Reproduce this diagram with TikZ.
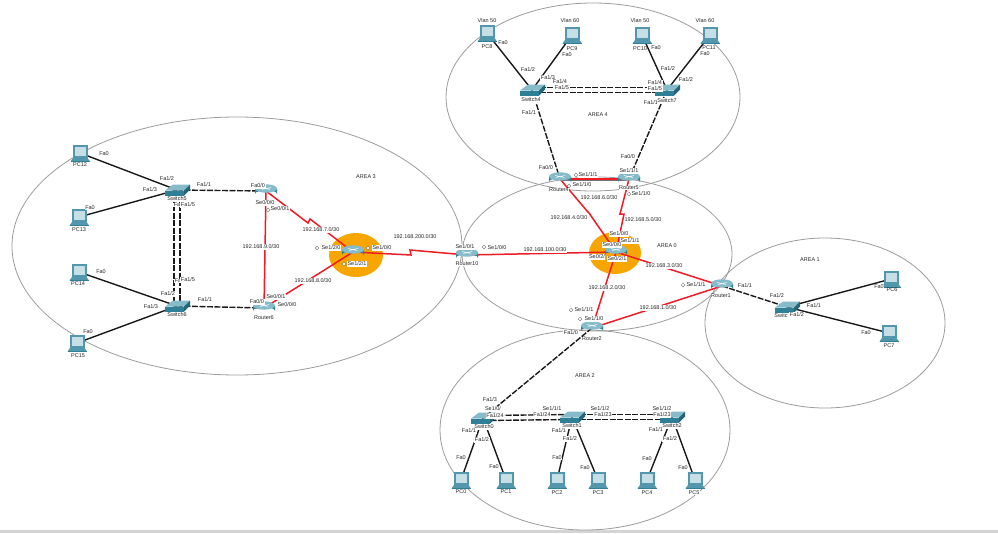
\documentclass[tikz,border=0pt]{standalone}
\usepackage{fontspec}
\setmainfont{Liberation Sans}
\usetikzlibrary{calc}
\definecolor{tealdark}{HTML}{2F7F96}
\definecolor{tealmid}{HTML}{5297AB}
\definecolor{teallight}{HTML}{86BBCA}
\definecolor{screenblue}{HTML}{C6DFE7}
\definecolor{linkred}{HTML}{EE1C25}
\definecolor{hubcolor}{HTML}{F7A600}
\definecolor{areagray}{HTML}{9C9C9C}
\newcount\labn
\newcommand{\lab}[3]{\global\advance\labn by 1 \node[portlabel] (lb\the\labn) at (#1,#2) {#3};}
\newcommand{\clk}[2]{\draw[clockmark] (#1,#2) circle (1.8);}
\tikzset{
  x=1pt,y=-1pt,
  portlabel/.style={font=\fontsize{5.5}{5.5}\selectfont,fill=white,inner sep=0.5pt,text=black!85},
  arealine/.style={draw=areagray,line width=0.8pt},
  wire/.style={draw=black!90,line width=1.4pt},
  trunk/.style={draw=black!90,line width=1.4pt,dash pattern=on 6pt off 1.5pt},
  serial/.style={draw=linkred,line width=1.5pt},
  clockmark/.style={draw=black!60,line width=0.3pt,fill=white},
  pics/pcicon/.style={code={
    \fill[tealmid] (-7.5,-8) rectangle (7.5,5);
    \fill[screenblue] (-5.5,-6.5) rectangle (5.5,3);
    \fill[tealmid] (-9.5,8.5) -- (-7,5) -- (7.5,5) -- (10,8.5) -- cycle;
    \fill[tealdark] (-9.5,7.5) rectangle (10,9);
  }},
  pics/routericon/.style={code={
    \fill[tealdark] (-11,-2) -- (-11,3) arc[start angle=180,end angle=360,x radius=11,y radius=4] -- (11,-2) -- cycle;
    \fill[tealmid] (-11,0) arc[start angle=180,end angle=360,x radius=11,y radius=4] -- (11,-2) -- (-11,-2) -- cycle;
    \fill[teallight] (0,-2.5) ellipse[x radius=11,y radius=4.2];
    \draw[white,line width=0.5pt] (-5,-3.5) -- (4,-1.5) (-4,-1.5) -- (5,-3.5);
  }},
  pics/switchicon/.style={code={
    \fill[teallight] (-12,0.5) -- (-4,-5.5) -- (13,-5.5) -- (7,0.5) -- cycle;
    \fill[tealdark] (-12,0.5) rectangle (7,5.5);
    \fill[tealdark!80!black] (7,0.5) -- (13,-5.5) -- (13,-0.5) -- (7,5.5) -- cycle;
  }}
}
\begin{document}
\begin{tikzpicture}
\useasboundingbox (0,0) rectangle (998,533);
\fill[white] (0,0) rectangle (998,533);
\fill[black!17] (0,530) rectangle (998,533);

% OSPF area outlines
\draw[arealine] (237,246) ellipse[x radius=225,y radius=129];
\draw[arealine] (593,97) ellipse[x radius=147,y radius=94];
\draw[arealine] (597,254) ellipse[x radius=135,y radius=77];
\draw[arealine] (825,323) ellipse[x radius=120,y radius=85];
\draw[arealine] (585,430) ellipse[x radius=145,y radius=100];

% highlighted hub routers
\fill[hubcolor] (356,255) ellipse[x radius=27,y radius=22];
\fill[hubcolor] (615,253) ellipse[x radius=26,y radius=21];

% device anchors
\node[coordinate] (pc12) at (80,153) {};
\node[coordinate] (pc13) at (79,217) {};
\node[coordinate] (pc14) at (79,272) {};
\node[coordinate] (pc15) at (77,343) {};
\node[coordinate] (sw5) at (177,190) {};
\node[coordinate] (sw6) at (177,306) {};
\node[coordinate] (r7) at (266,191) {};
\node[coordinate] (r6) at (264,308) {};
\node[coordinate] (hubw) at (353,252) {};
\node[coordinate] (r10) at (467,255) {};
\node[coordinate] (hubc) at (616,252) {};
\node[coordinate] (r4) at (560,179) {};
\node[coordinate] (r5) at (629,179) {};
\node[coordinate] (r1) at (722,286) {};
\node[coordinate] (r2) at (592,328) {};
\node[coordinate] (sw4) at (532,90) {};
\node[coordinate] (sw7) at (667,90) {};
\node[coordinate] (pc8) at (487,33) {};
\node[coordinate] (pc9) at (572,35) {};
\node[coordinate] (pc10) at (642,35) {};
\node[coordinate] (pc11) at (710,35) {};
\node[coordinate] (swa) at (483,418) {};
\node[coordinate] (swb) at (572,417) {};
\node[coordinate] (swc) at (672,417) {};
\node[coordinate] (pc0) at (461,480) {};
\node[coordinate] (pc1) at (506,480) {};
\node[coordinate] (pc2) at (557,480) {};
\node[coordinate] (pc3) at (598,480) {};
\node[coordinate] (pc4) at (647,480) {};
\node[coordinate] (pc5) at (695,480) {};
\node[coordinate] (sw1) at (787,307) {};
\node[coordinate] (pc6) at (891,279) {};
\node[coordinate] (pc7) at (889,333) {};

% access links
\draw[wire] (pc12) -- (sw5);
\draw[wire] (pc13) -- (sw5);
\draw[wire] (pc14) -- (sw6);
\draw[wire] (pc15) -- (sw6);
\draw[wire] (pc8) -- (sw4);
\draw[wire] (pc9) -- (sw4);
\draw[wire] (pc10) -- (sw7);
\draw[wire] (pc11) -- (sw7);
\draw[wire] (pc0) -- (swa);
\draw[wire] (pc1) -- (swa);
\draw[wire] (pc2) -- (swb);
\draw[wire] (pc3) -- (swb);
\draw[wire] (pc4) -- (swc);
\draw[wire] (pc5) -- (swc);
\draw[wire] (pc6) -- (sw1);
\draw[wire] (pc7) -- (sw1);

% trunks and router uplinks
\draw[trunk] ([xshift=-3pt]sw5.center) -- ([xshift=-3pt]sw6.center);
\draw[trunk] ([xshift=3pt]sw5.center) -- ([xshift=3pt]sw6.center);
\draw[trunk] (sw5) -- (r7);
\draw[trunk] (sw6) -- (r6);
\draw[trunk] ([yshift=2.5pt]sw4.center) -- ([yshift=2.5pt]sw7.center);
\draw[trunk] ([yshift=-2.5pt]sw4.center) -- ([yshift=-2.5pt]sw7.center);
\draw[trunk] (sw4) -- (r4);
\draw[trunk] (sw7) -- (r5);
\draw[trunk] (r2) -- (swa);
\draw[trunk] ([yshift=2.5pt]swa.center) -- ([yshift=2.5pt]swb.center);
\draw[trunk] ([yshift=-2.5pt]swa.center) -- ([yshift=-2.5pt]swb.center);
\draw[trunk] ([yshift=2.5pt]swb.center) -- ([yshift=2.5pt]swc.center);
\draw[trunk] ([yshift=-2.5pt]swb.center) -- ([yshift=-2.5pt]swc.center);
\draw[trunk] (r1) -- (sw1);

% serial links between routers
\draw[serial] (r7) -- (r6);
\draw[serial] (r7) -- (308,223) -- (310,219) -- (hubw);
\draw[serial] (r6) -- (hubw);
\draw[serial] (hubw) -- (411,255) -- (410,250) -- (r10);
\draw[serial] (r10) -- (hubc);
\draw[draw=black!55,line width=0.6pt] ([yshift=-1.5pt]r4.center) -- ([yshift=-1.5pt]r5.center);
\draw[serial] (r4) -- (r5);
\draw[serial] (r4) -- (587,211) -- (589,213) -- (hubc);
\draw[serial] (r5) -- (620,214) -- (624,214) -- (hubc);
\draw[serial] (hubc) -- (r1);
\draw[serial] (hubc) -- (r2);
\draw[serial] (r2) -- (r1);

% device icons
\foreach \d in {pc12,pc13,pc14,pc15,pc8,pc9,pc10,pc11,pc0,pc1,pc2,pc3,pc4,pc5,pc6,pc7}{\pic at (\d) {pcicon};}
\foreach \d in {r7,r6,hubw,r10,r4,r5,r1,r2,hubc}{\pic at (\d) {routericon};}
\foreach \d in {sw5,sw6,sw4,sw7,swa,swb,swc,sw1}{\pic at (\d) {switchicon};}

% area titles
\lab{366}{177}{AREA 3}
\lab{598}{115}{AREA 4}
\lab{667}{246}{AREA 0}
\lab{810}{260}{AREA 1}
\lab{585}{376}{AREA 2}

% subnets
\lab{321}{230}{192.168.7.0/30}
\lab{261}{247}{192.168.9.0/30}
\lab{313}{281}{192.168.8.0/30}
\lab{415}{237}{192.168.200.0/30}
\lab{545}{250}{192.168.100.0/30}
\lab{599}{198}{192.168.6.0/30}
\lab{569}{218}{192.168.4.0/30}
\lab{643}{220}{192.168.5.0/30}
\lab{664}{266}{192.168.3.0/30}
\lab{607}{288}{192.168.2.0/30}
\lab{658}{308}{192.168.1.0/30}

% left area ports and names
\lab{80}{165}{PC12}
\lab{79}{230}{PC13}
\lab{78}{284}{PC14}
\lab{78}{356}{PC15}
\lab{104}{154}{Fa0}
\lab{90}{208}{Fa0}
\lab{101}{272}{Fa0}
\lab{88}{332}{Fa0}
\lab{167}{179}{Fa1/2}
\lab{150}{190}{Fa1/3}
\lab{204}{185}{Fa1/1}
\lab{177}{199}{Switch5}
\lab{177}{205}{Fa}
\lab{188}{205}{Fa1/5}
\lab{178}{281}{Fa}
\lab{188}{280}{Fa1/5}
\lab{168}{294}{Fa1/2}
\lab{151}{307}{Fa1/3}
\lab{205}{300}{Fa1/1}
\lab{177}{315}{Switch6}
\lab{258}{186}{Fa0/0}
\lab{265}{203}{Se0/0/0}
\clk{268}{210}
\lab{280}{209}{Se0/0/1}
\clk{317}{248}
\lab{331}{248}{Se1/2/0}
\clk{368}{248}
\lab{382}{248}{Se1/0/0}
\clk{344}{264}
\lab{357}{264}{Se1/2/1}
\lab{257}{302}{Fa0/0}
\lab{276}{297}{Se0/0/1}
\lab{287}{305}{Se0/0/0}
\lab{264}{318}{Router6}
\lab{465}{247}{Se1/0/1}
\clk{484}{247}
\lab{497}{248}{Se1/0/0}
\lab{467}{264}{Router10}

% top area ports and names
\lab{487}{21}{Vlan 50}
\lab{570}{21}{Vlan 60}
\lab{640}{21}{Vlan 50}
\lab{705}{21}{Vlan 60}
\lab{487}{47}{PC8}
\lab{572}{49}{PC9}
\lab{640}{49}{PC10}
\lab{503}{43}{Fa0}
\lab{567}{55}{Fa0}
\lab{656}{48}{Fa0}
\lab{709}{48}{PC11}
\lab{705}{54}{Fa0}
\lab{528}{70}{Fa1/2}
\lab{668}{69}{Fa1/2}
\lab{686}{80}{Fa1/2}
\lab{548}{78}{Fa1/3}
\lab{560}{82}{Fa1/4}
\lab{562}{88}{Fa1/5}
\lab{655}{83}{Fa1/4}
\lab{655}{89}{Fa1/5}
\lab{651}{103}{Fa1/1}
\lab{529}{113}{Fa1/1}
\lab{531}{100}{Switch4}
\lab{667}{101}{Switch7}
\lab{628}{157}{Fa0/0}
\lab{546}{168}{Fa0/0}

% core ports and names
\clk{576}{175}
\lab{588}{175}{Se1/1/1}
\lab{629}{171}{Se1/1/1}
\clk{569}{186}
\lab{582}{185}{Se1/1/0}
\clk{629}{194}
\lab{641}{194}{Se1/1/0}
\lab{559}{190}{Router4}
\lab{629}{188}{Router5}
\lab{619}{234}{Se1/0/0}
\lab{630}{241}{Se1/1/1}
\lab{612}{245}{Se0/0/0}
\lab{597}{257}{Se0/2/}
\lab{617}{259}{Se0/2/1}
\clk{683}{285}
\lab{696}{285}{Se1/1/1}
\lab{721}{296}{Router1}
\clk{571}{310}
\lab{584}{310}{Se1/1/1}
\clk{580}{319}
\lab{594}{319}{Se1/1/0}
\lab{571}{333}{Fa1/0}
\lab{592}{339}{Router2}

% lower area ports and names
\lab{490}{400}{Fa1/3}
\lab{493}{409}{Se1/0/}
\lab{495}{416}{Fa1/24}
\lab{552}{409}{Se1/1/1}
\lab{542}{415}{Fa1/24}
\lab{600}{409}{Se1/1/2}
\lab{603}{415}{Fa1/23}
\lab{662}{409}{Se1/1/2}
\lab{662}{415}{Fa1/23}
\lab{484}{427}{Switch0}
\lab{572}{426}{Switch1}
\lab{672}{426}{Switch2}
\lab{469}{431}{Fa1/1}
\lab{482}{440}{Fa1/2}
\lab{559}{431}{Fa1/1}
\lab{570}{439}{Fa1/2}
\lab{656}{430}{Fa1/1}
\lab{670}{439}{Fa1/2}
\lab{461}{458}{Fa0}
\lab{494}{467}{Fa0}
\lab{557}{458}{Fa0}
\lab{585}{468}{Fa0}
\lab{647}{459}{Fa0}
\lab{683}{468}{Fa0}
\lab{461}{492}{PC0}
\lab{506}{492}{PC1}
\lab{557}{493}{PC2}
\lab{598}{493}{PC3}
\lab{647}{493}{PC4}
\lab{694}{493}{PC5}

% right area ports and names
\lab{745}{286}{Fa1/1}
\lab{777}{296}{Fa1/2}
\lab{814}{306}{Fa1/1}
\lab{781}{316}{Switc}
\lab{797}{315}{Fa1/2}
\lab{879}{287}{Fa0}
\lab{892}{290}{PC6}
\lab{866}{333}{Fa0}
\lab{889}{346}{PC7}
\end{tikzpicture}
\end{document}
